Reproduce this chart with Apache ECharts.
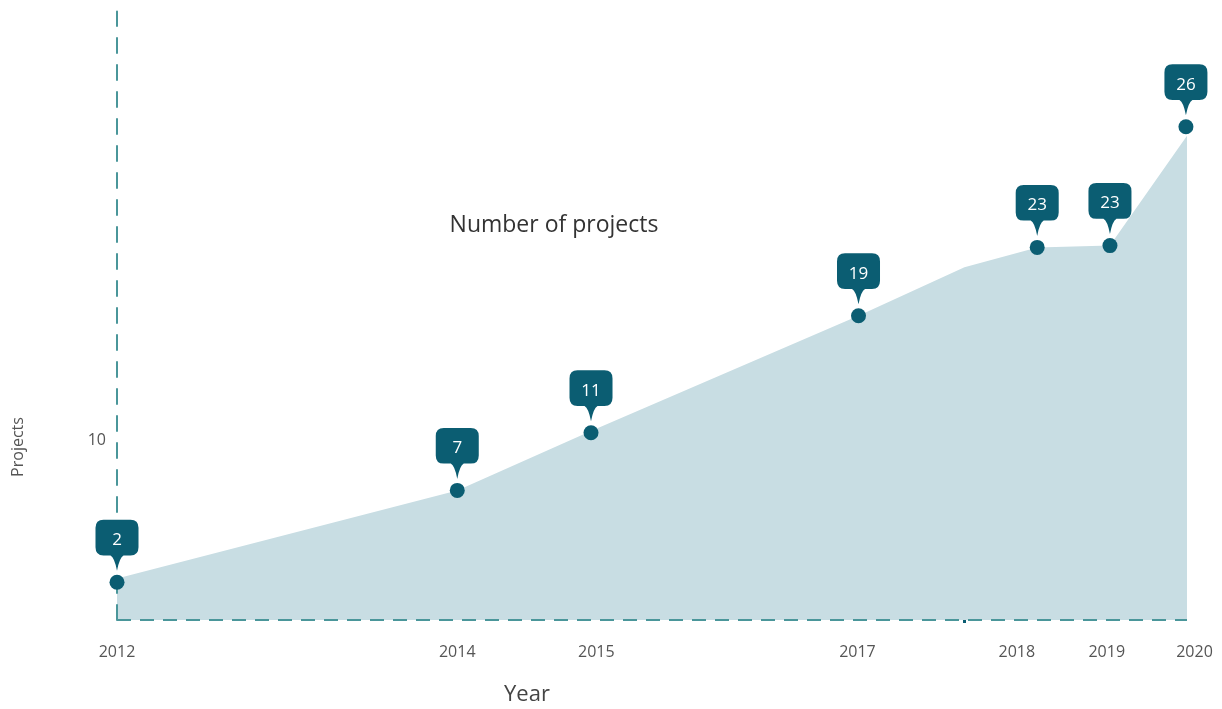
<!DOCTYPE html>
<html>
<head>
<meta charset="utf-8">
<script src="https://cdn.jsdelivr.net/npm/echarts@6/dist/echarts.min.js"></script>
<style>
  html, body { margin: 0; padding: 0; background: #ffffff; }
  #chart { width: 1222px; height: 709px; }
</style>
</head>
<body>
<div id="chart"></div>
<script>
// Timeline position (0 = 2012 axis, 100 = right edge of the area)
const yearLabels = ['2012', '2014', '2015', '2017', '2018', '2019', '2020'];
const yearLabelPos = [0, 31.8, 44.8, 69.2, 84.1, 92.5, 100.7];

// Callout values and where their markers sit on the value axis
const projects = [2, 7, 11, 19, 23, 23, 26];
const pointPos = [0, 31.8, 44.3, 69.3, 86.0, 92.8, 99.9];
const pointLevel = [2.1, 7.2, 10.4, 16.9, 20.7, 20.8, 27.4];

// Area outline
const areaPos = [0, 31.8, 44.3, 69.3, 79.2, 86.0, 92.8, 100];
const areaLevel = [2.3, 7.2, 10.5, 16.9, 19.6, 20.7, 20.8, 26.9];

const yTicks = [10];
const hiddenTick = [79.2];

const FONT = '"Open Sans", "Noto Sans", sans-serif';
const DARK = '#0b5d72';
const DASH = '#4a969a';

const areaData = areaPos.map((x, i) => [x, areaLevel[i]]);
const pointData = pointPos.map((x, i) => [x, pointLevel[i], projects[i]]);

const pinPath = 'path://M8,0 H35 Q43,0 43,8 V27 Q43,35 35,35 H28 Q24,37 21.5,50 Q19,37 15,35 H8 Q0,35 0,27 V8 Q0,0 8,0 Z';

const chart = echarts.init(document.getElementById('chart'), null, { renderer: 'canvas' });
chart.setOption({
  animation: false,
  backgroundColor: '#ffffff',
  grid: { left: 117, top: 11.6, width: 1080.7, height: 608.4, containLabel: false },
  xAxis: {
    type: 'value', min: 0, max: 101,
    splitLine: { show: false },
    axisLine: { show: false },
    axisTick: { show: true, customValues: hiddenTick, length: 3, lineStyle: { color: DARK, width: 3 }, inside: false },
    axisLabel: {
      customValues: yearLabelPos,
      formatter: v => { const i = yearLabelPos.indexOf(v); return i >= 0 ? yearLabels[i] : ''; },
      margin: 24, fontSize: 16, color: '#555', fontFamily: FONT
    }
  },
  yAxis: {
    type: 'value', min: 0, max: 33.8, z: 5,
    splitLine: { show: false },
    axisLine: { show: true, lineStyle: { color: DASH, width: 2, type: [15, 12] } },
    axisTick: { show: false },
    axisLabel: { customValues: yTicks, margin: 11, fontSize: 16, color: '#555', fontFamily: FONT }
  },
  graphic: [
    { type: 'text', x: 18, y: 447, rotation: Math.PI / 2,
      style: { text: 'Projects', fill: '#555', font: '16px ' + FONT, align: 'center', verticalAlign: 'middle' } },
    { type: 'text', x: 527, y: 695,
      style: { text: 'Year', fill: '#444', font: '22px ' + FONT, align: 'center', verticalAlign: 'middle' } },
    { type: 'text', x: 554, y: 225,
      style: { text: 'Number of projects', fill: '#333', font: '23px ' + FONT, align: 'center', verticalAlign: 'middle' } }
  ],
  series: [
    {
      type: 'line', data: areaData, symbol: 'none', z: 1,
      lineStyle: { width: 0 },
      areaStyle: { color: '#c8dde3', opacity: 1 }
    },
    {
      type: 'line', data: [[0, 0], [100, 0]], symbol: 'none', z: 4,
      lineStyle: { color: DASH, width: 2, type: [14, 9] }
    },
    {
      type: 'scatter', data: pointData, z: 10,
      symbol: 'circle', symbolSize: 15,
      itemStyle: { color: DARK, opacity: 1 }
    },
    {
      type: 'scatter', data: pointData, z: 11,
      symbol: pinPath, symbolSize: [43, 51], symbolKeepAspect: false,
      symbolOffset: [0, -37],
      itemStyle: { color: DARK, opacity: 1 },
      label: {
        show: true, position: 'inside', offset: [0, -5],
        formatter: p => String(p.value[2]),
        color: '#ffffff', fontSize: 17, fontFamily: FONT
      }
    }
  ]
});
</script>
</body>
</html>
